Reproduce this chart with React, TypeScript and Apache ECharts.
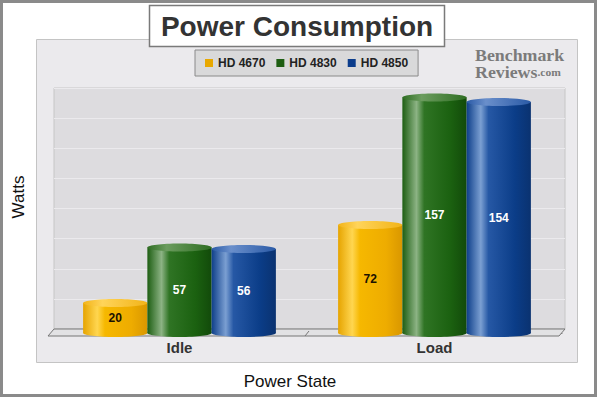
import { useEffect, useRef } from 'react'
import * as echarts from 'echarts'

const categories = ['Idle', 'Load']
const seriesNames = ['HD 4670', 'HD 4830', 'HD 4850']
const hd4670 = [20, 72]
const hd4830 = [57, 157]
const hd4850 = [56, 154]
const yMax = 160
const yInterval = 20

const FONT = '"Liberation Sans", Arial, sans-serif'
const SERIF = '"Liberation Serif", serif'

// body gradient, top cap colour, legend colour, label colour
const looks = [
  {
    stops: ['#e6a400', '#ffd650', '#f6b800', '#eeac00', '#d99700'],
    top: ['#ffd45a', '#f2b418'],
    color: '#e8a800',
    label: '#1a1200'
  },
  {
    stops: ['#1d5e12', '#8cb384', '#2f7424', '#1b6110', '#124a0a'],
    top: ['#6b9c5e', '#2e6d22'],
    color: '#1e5e12',
    label: '#ffffff'
  },
  {
    stops: ['#0e3f8a', '#7b9fd2', '#2658a5', '#0b3d88', '#0a3270'],
    top: ['#6a8fcb', '#2a5aa6'],
    color: '#0c3d8c',
    label: '#ffffff'
  }
]

function cylinder(idx: number) {
  const look = looks[idx]
  return (params: any, api: any) => {
    const cat = api.value(0)
    const val = api.value(1)
    const base = api.coord([cat, 0])
    const top = api.coord([cat, val])
    const catW = api.size([1, 0])[0]
    const w = catW * 0.252
    const cx = base[0] + (idx - 1) * w
    const x = cx - w / 2
    const ry = 4
    const body = {
      type: 'linear',
      x: 0,
      y: 0,
      x2: 1,
      y2: 0,
      colorStops: [
        { offset: 0, color: look.stops[0] },
        { offset: 0.22, color: look.stops[1] },
        { offset: 0.34, color: look.stops[2] },
        { offset: 0.75, color: look.stops[3] },
        { offset: 1, color: look.stops[4] }
      ]
    }
    return {
      type: 'group',
      children: [
        {
          type: 'ellipse',
          shape: { cx, cy: base[1], rx: w / 2, ry },
          style: { fill: body }
        },
        {
          type: 'rect',
          shape: { x, y: top[1], width: w, height: base[1] - top[1] },
          style: { fill: body }
        },
        {
          type: 'ellipse',
          shape: { cx, cy: top[1], rx: w / 2, ry },
          style: {
            fill: {
              type: 'linear',
              x: 0,
              y: 0,
              x2: 1,
              y2: 0,
              colorStops: [
                { offset: 0, color: look.top[1] },
                { offset: 0.3, color: look.top[0] },
                { offset: 1, color: look.top[1] }
              ]
            }
          }
        },
        {
          type: 'text',
          x: cx,
          y: (top[1] + base[1]) / 2,
          style: {
            text: String(val),
            fill: look.label,
            fontSize: 12,
            fontWeight: 'bold',
            fontFamily: FONT,
            align: 'center',
            verticalAlign: 'middle'
          }
        }
      ]
    }
  }
}

function App() {
  const chartRef = useRef<HTMLDivElement>(null)

  useEffect(() => {
    if (!chartRef.current) return
    const chart = echarts.init(chartRef.current, undefined, { renderer: 'svg' })

    const values = [hd4670, hd4830, hd4850]

    chart.setOption({
      animation: false,
      backgroundColor: '#ffffff',
      textStyle: { fontFamily: FONT },
      legend: {
        data: seriesNames,
        left: 195,
        top: 50,
        padding: [7, 10],
        itemGap: 11,
        itemWidth: 8,
        itemHeight: 8,
        icon: 'rect',
        backgroundColor: '#d9d9da',
        borderColor: '#8a8a8a',
        borderWidth: 1,
        textStyle: { fontSize: 12, fontWeight: 'bold', color: '#222', fontFamily: FONT }
      },
      grid: [
        // back wall
        {
          left: 54,
          right: 35,
          top: 88,
          bottom: 71,
          show: true,
          backgroundColor: '#dddcdf',
          borderColor: '#c6c6c6',
          borderWidth: 1
        },
        // front plane where cylinders stand
        { left: 52, right: 38, top: 93, bottom: 67 }
      ],
      xAxis: [
        {
          type: 'category',
          gridIndex: 0,
          data: categories,
          show: false
        },
        {
          type: 'category',
          gridIndex: 1,
          data: categories,
          axisLine: { lineStyle: { color: '#777' } },
          axisTick: { show: false },
          axisLabel: {
            margin: 7,
            fontSize: 15,
            fontWeight: 'bold',
            color: '#333',
            fontFamily: FONT
          }
        }
      ],
      yAxis: [
        {
          type: 'value',
          gridIndex: 0,
          min: 0,
          max: yMax,
          interval: yInterval,
          axisLabel: { show: false },
          axisLine: { show: false },
          axisTick: { show: false },
          splitLine: { lineStyle: { color: '#ebeaed', width: 1 } }
        },
        {
          type: 'value',
          gridIndex: 1,
          min: 0,
          max: yMax,
          interval: yInterval,
          axisLabel: { show: false },
          axisLine: { show: false },
          axisTick: { show: false },
          splitLine: { show: false }
        }
      ],
      graphic: [
        {
          type: 'rect',
          z: -2,
          shape: { x: 1.5, y: 1.5, width: 594, height: 394 },
          style: { fill: '#ffffff', stroke: '#8a8a8a', lineWidth: 3 }
        },
        {
          type: 'rect',
          z: -1,
          shape: { x: 36.5, y: 39.5, width: 541, height: 323 },
          style: { fill: '#ebeaed', stroke: '#c4c4c4', lineWidth: 1 }
        },
        {
          type: 'polygon',
          z: 1,
          shape: {
            points: [
              [48, 336],
              [54, 329],
              [565, 329],
              [559, 336]
            ]
          },
          style: { fill: '#e2e2e4', stroke: '#777', lineWidth: 1 }
        },
        {
          type: 'line',
          z: 1,
          shape: { x1: 305, y1: 336, x2: 309, y2: 331 },
          style: { stroke: '#777', lineWidth: 1 }
        },
        {
          type: 'rect',
          z: 10,
          shape: { x: 149.5, y: 5.5, width: 295, height: 41 },
          style: { fill: '#ffffff', stroke: '#7a7a7a', lineWidth: 1.5 }
        },
        {
          type: 'text',
          z: 11,
          x: 297,
          y: 26,
          style: {
            text: 'Power Consumption',
            fill: '#333',
            fontSize: 28,
            fontWeight: 'bold',
            fontFamily: FONT,
            align: 'center',
            verticalAlign: 'middle'
          }
        },
        {
          type: 'text',
          z: 11,
          x: 475,
          y: 55,
          scaleX: 1.05,
          style: {
            text: 'Benchmark',
            fill: '#7b7b7b',
            fontSize: 17,
            fontWeight: 'bold',
            fontFamily: SERIF,
            verticalAlign: 'middle'
          }
        },
        {
          type: 'text',
          z: 11,
          x: 475,
          y: 72.5,
          scaleX: 1.05,
          style: {
            text: '{a|Reviews}{b|.com}',
            verticalAlign: 'middle',
            rich: {
              a: {
                fill: '#7b7b7b',
                fontSize: 17,
                fontWeight: 'bold',
                fontFamily: SERIF
              },
              b: {
                fill: '#7b7b7b',
                fontSize: 11,
                fontWeight: 'bold',
                fontFamily: SERIF
              }
            }
          }
        },
        {
          type: 'text',
          z: 11,
          x: 18,
          y: 197,
          rotation: Math.PI / 2,
          style: {
            text: 'Watts',
            fill: '#111',
            fontSize: 17,
            fontFamily: FONT,
            align: 'center',
            verticalAlign: 'middle'
          }
        },
        {
          type: 'text',
          z: 11,
          x: 290,
          y: 381,
          style: {
            text: 'Power State',
            fill: '#111',
            fontSize: 17,
            fontFamily: FONT,
            align: 'center',
            verticalAlign: 'middle'
          }
        }
      ],
      series: seriesNames.map((name, i) => ({
        name,
        type: 'custom',
        xAxisIndex: 1,
        yAxisIndex: 1,
        itemStyle: { color: looks[i].color },
        encode: { x: 0, y: 1 },
        data: values[i].map((v, c) => [c, v]),
        renderItem: cylinder(i)
      }))
    })

    return () => {
      chart.dispose()
    }
  }, [])

  return (
    <div
      ref={chartRef}
      style={{ position: 'fixed', left: 0, top: 0, width: 600, height: 400 }}
    />
  )
}

export default App
